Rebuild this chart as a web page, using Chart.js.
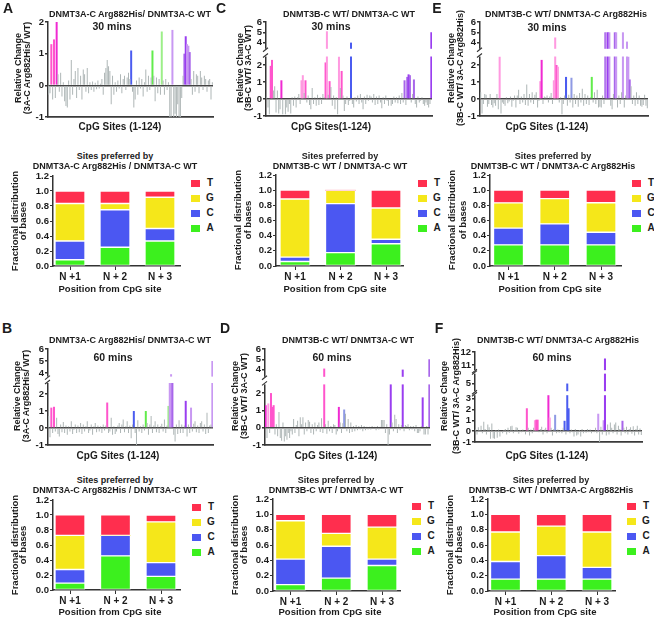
<!DOCTYPE html>
<html>
<head>
<meta charset="utf-8">
<script src="https://cdn.jsdelivr.net/npm/chart.js@4.4.1/dist/chart.umd.min.js"></script>
<style>
body { margin: 0; background: #fff; }
#fig { position: relative; width: 654px; height: 618px; overflow: hidden; background: #fff;
       font-family: "Liberation Sans", Arial, sans-serif; font-weight: bold; color: #1c1c1c; }
#fig canvas { position: absolute; }
.t { position: absolute; white-space: nowrap; line-height: 1; transform: translate(-50%, -50%); }
.r { transform: translate(-50%, -50%) rotate(-90deg); }
.sw { position: absolute; width: 9px; height: 7px; }
</style>
</head>
<body>
<div id="fig"></div>
<script>
// ---- data ----
const sites = Array.from({ length: 124 }, (_, i) => String(i + 1));

// relative change per CpG site, 30 min
const changeA30 = [
  -0.3, -0.25, 1.3, -0.45, 1.45, -0.4, 2.0, 0.35, -0.2, 0.4,
  -0.35, 0.1, -0.5, -0.65, -0.7, 0.15, -0.45, 0.8, -0.3, 0.2,
  0.45, -0.4, 0.55, -0.15, 0.3, -0.45, 0.5, 0.35, -0.2, 0.55,
  -0.25, 0.1, -0.15, 0.12, -0.2, 0.08, -0.12, 0.15, -0.1, 0.05,
  0.2, -0.3, 0.4, 0.55, 0.8, 0.6, 0.45, -0.6, 0.3, -0.3,
  0.1, -0.2, 0.15, -0.1, 0.35, -0.25, 0.2, 0.3, -0.15, 0.25,
  0.4, 0.2, 1.1, -0.2, -0.7, -0.45, 0.15, -0.3, 0.25, -0.1,
  0.2, -0.35, 0.1, 0.5, -0.2, 0.3, -0.15, 0.25, 1.1, 0.3,
  -0.5, 0.25, -0.25, 0.2, -0.3, 1.7, 0.15, -0.3, 0.2, -0.15,
  0.1, -1.05, -1.05, 1.75, -1.05, -0.9, -1.05, -0.6, -1.05, -1.05,
  -0.4, 0.3, 1.0, 1.55, 1.3, 1.25, 1.05, 0.2, -0.3, 0.45,
  -0.2, 0.35, 0.3, -0.25, 0.45, 0.25, -0.15, 0.3, 0.2, -0.2,
  0.15, 0.2, -0.45, 0.1
];
const changeC30 = [
  0.1, -0.5, -0.9, 1.95, 2.3, 0.5, 0.75, -0.8, 0.5, -0.85,
  -0.6, 1.1, -0.9, 0.05, -0.9, -0.5, -0.75, -0.3, -0.85, 0.1,
  -0.4, 0.15, -0.5, 0.1, 0.3, -0.3, 1.1, 1.4, 0.35, 1.1,
  -0.2, 0.2, -0.35, -0.6, 0.65, -0.3, 0.1, -0.4, 0.25, -0.35,
  0.1, -0.3, 0.3, 0.1, 2.15, 5.1, 0.25, 1.05, 0.7, -0.4,
  0.2, -0.6, 0.1, -0.9, 2.5, 0.65, 1.65, 0.2, -0.7, -0.3,
  0.15, -0.35, -0.1, 4.0, -0.3, -0.5, 0.1, -0.15, 0.2, -0.3,
  0.3, -0.2, -0.6, 0.15, -0.3, 0.25, -0.1, 0.2, 0.15, -0.2,
  0.3, -0.35, 0.15, -0.3, 0.2, -0.2, -0.55, 0.1, -0.3, 0.2,
  -0.1, -0.4, 0.05, -0.4, -0.3, 0.15, -0.2, 0.1, -0.25, 0.2,
  -0.3, 0.35, -0.2, 1.1, -0.35, 1.3, 1.45, 1.4, -0.2, 0.3,
  1.15, -0.3, -0.5, 0.15, -0.2, -0.1, 0.1, -0.3, -0.4, -0.2,
  -0.35, -0.5, -0.3, 5.0
];
const changeE30 = [
  0.4, -0.85, -0.3, 0.3, 0.25, -0.45, -0.3, 0.3, -0.35, -0.5,
  -0.25, -0.4, 0.3, -0.6, 2.5, -0.85, -0.2, -0.3, -0.4, 0.1,
  -0.25, -0.15, 0.15, -0.45, -0.1, 0.2, -0.5, 0.2, 0.55, -0.3,
  0.15, -0.2, 0.3, -0.35, 0.85, -0.4, 0.3, -0.2, 0.4, -0.3,
  0.25, 0.4, -0.5, -0.1, 1.05, 2.3, -0.3, 0.15, 0.1, 0.2,
  -0.2, 0.15, 0.35, -0.3, 1.1, 4.5, 2.0, 1.9, -0.2, 0.1,
  -0.9, -0.3, 0.2, 1.3, -0.4, 0.25, -0.2, 1.25, -0.5, 0.3,
  -0.3, 0.2, -0.45, 0.35, -0.2, 0.6, -0.4, 0.3, -0.3, 0.2,
  -0.35, 0.1, 1.3, -0.2, 0.4, -0.3, 0.55, -0.5, -0.45, -0.5,
  0.2, -0.3, 5.0, 5.0, 5.0, 5.0, -0.4, -0.6, 0.3, 5.0,
  5.0, -0.5, 0.2, -0.3, 0.4, 5.0, -0.5, 0.2, 4.1, 2.5,
  1.15, 0.75, -0.3, 0.2, -0.4, 0.4, -0.3, 0.2, -0.4, -0.45,
  -0.35, 0.25, -0.4, -0.55
];
// relative change per CpG site, 60 min
const changeB60 = [
  0.7, -0.55, 1.2, -0.3, 1.25, -0.2, 0.6, -0.35, -0.5, 0.2,
  -0.25, 0.35, -0.3, 0.15, -0.4, 0.1, -0.2, 0.4, -0.35, -0.1,
  0.2, -0.3, 0.15, -0.25, 0.3, -0.35, 0.2, -0.2, 0.1, 0.4,
  -0.3, -0.15, 0.2, -0.4, 0.1, 0.3, -0.25, 0.15, -0.2, 0.1,
  -0.3, 0.2, -0.15, 0.15, 1.5, -0.3, -0.2, 0.6, -0.4, 0.1,
  -0.35, -0.2, 0.15, 0.3, -0.3, 0.2, 0.5, -0.25, 0.1, 0.4,
  -0.3, 0.15, -0.6, 0.2, 1.0, -0.3, -1.0, 0.45, -0.2, 0.1,
  -0.3, 0.2, -0.15, 1.0, 0.3, -0.4, 0.2, 0.7, -0.3, 0.15,
  0.4, -0.25, 0.2, -0.3, 0.1, 0.25, -0.2, 0.5, -0.3, 0.15,
  1.3, 3.0, 3.9, 3.0, -0.4, -0.8, 0.2, -0.35, 0.45, -0.3,
  0.2, -0.3, 0.15, 1.6, -0.5, 0.2, -0.3, 1.2, -0.2, 0.25,
  0.4, -0.25, 0.15, -0.3, 0.3, 0.4, -0.2, 0.2, -0.35, 0.9,
  -0.3, 0.15, 0.2, 5.0
];
const changeD60 = [
  1.3, -0.6, 1.4, -0.3, 2.0, 1.2, 1.3, -0.4, 0.2, -0.5,
  0.9, -0.6, -0.75, 0.3, -0.8, -0.5, -0.7, -0.3, -0.6, -0.2,
  -0.4, 0.5, -0.3, 0.15, 0.4, -0.5, 0.6, 0.2, 0.6, -0.4,
  0.3, -0.2, 0.45, 0.35, -0.3, 0.2, -0.4, 0.3, -0.2, 0.15,
  0.3, -0.25, 0.55, -0.3, 4.1, 0.2, -0.35, 0.4, -0.2, 0.1,
  -0.3, 0.2, 0.15, -0.4, -0.2, 1.2, 0.3, -0.3, 0.25, 1.05,
  0.8, -0.2, 0.5, -0.3, 0.3, -0.25, 0.1, -0.2, 0.15, -0.15,
  0.1, -0.1, 0.15, -0.2, 0.1, -0.15, 0.05, -0.1, 0.05, -0.1,
  0.1, -0.05, 0.05, -0.15, 0.1, -0.1, 0.05, 0.45, 0.45, 0.45,
  -0.3, 0.2, -1.05, -0.4, 3.0, 0.3, -0.2, 0.75, 0.5, -0.3,
  0.2, -0.15, 0.15, 4.0, -0.2, 0.15, 0.1, 0.2, -0.15, 0.1,
  -0.1, 0.1, -0.2, 0.15, -0.3, -0.3, -0.2, 0.1, 1.75, -0.4,
  -0.4, 0.1, -0.4, 5.0
];
const changeF60 = [
  0.2, -0.3, 0.35, 0.1, 0.5, -0.2, 0.85, 0.2, -0.3, 0.6,
  0.35, -0.7, 0.7, -0.65, -0.7, 0.1, -0.6, 0.15, -0.5, 0.05,
  -0.2, 0.1, 0.2, -0.3, 0.3, -0.15, 0.45, 0.5, -0.2, 0.1,
  0.35, 0.3, -0.25, 0.1, -0.1, 0.15, 0.05, -0.3, 2.1, 0.3,
  -0.4, 0.15, -0.2, 0.3, 1.0, 1.05, 1.05, -0.1, 0.2, 0.4,
  -0.3, 0.15, 0.3, -0.2, 3.4, 1.25, 0.3, -0.4, 0.2, 1.5,
  -0.2, 0.15, -0.15, 0.1, -0.2, 0.3, 0.95, -0.3, 5.0, 2.1,
  -0.2, 0.15, -0.1, -0.5, 0.2, -0.4, -0.3, 0.1, -0.5, 0.2,
  -0.2, 0.1, -0.15, 0.2, -0.1, 0.15, -0.2, 0.05, -0.1, 0.3,
  -0.2, 1.6, -1.05, 0.4, -0.3, 1.0, 11.5, -0.4, 0.6, -0.3,
  0.8, 0.3, -0.2, 0.6, 0.8, -0.3, 0.5, 0.2, -0.4, 0.95,
  0.3, -0.2, 0.4, -0.3, 0.2, 0.35, -0.25, 0.45, -0.4, 0.2,
  0.5, -0.3, 0.25, -0.35
];

// y tick labels of the site charts
const ticksPlain = [-1, 0, 1, 2];
const ticksBroken = [-1, 0, 1, 2, 4, 5, 6];
const ticksBrokenF = [-1, 0, 1, 2, 3, 5, 11, 12];

// base composition at N+1..N+3 (rows: A, C, G, T)
const positions = ['N +1', 'N + 2', 'N + 3'];
const bases = ['A', 'C', 'G', 'T'];
const fracTicks = [0, 0.2, 0.4, 0.6, 0.8, 1.0, 1.2];
const fracA = [[0.083, 0.25, 0.333], [0.25, 0.5, 0.167], [0.5, 0.083, 0.417], [0.167, 0.167, 0.083]];
const fracC = [[0.059, 0.176, 0.294], [0.059, 0.647, 0.059], [0.765, 0.176, 0.412], [0.118, 0, 0.235]];
const fracE = [[0.278, 0.278, 0.278], [0.222, 0.278, 0.167], [0.333, 0.333, 0.389], [0.167, 0.111, 0.167]];
const fracB = [[0.091, 0.455, 0.182], [0.182, 0.273, 0.182], [0.455, 0, 0.545], [0.273, 0.273, 0.091]];
const fracD = [[0.083, 0.167, 0.333], [0.333, 0.417, 0.083], [0.5, 0.167, 0.417], [0.083, 0.25, 0.167]];
const fracF = [[0.154, 0.154, 0.154], [0.231, 0.308, 0.154], [0.385, 0.385, 0.462], [0.231, 0.154, 0.231]];

// ---- styles ----
const GRAY = '#aeb6b6';
const PINK = '#ff55cc', LPINK = '#ff9ae0', MAG = '#f02ad2', BLUE = '#4b5cf0', LBLUE = '#8f9ae4',
      GREEN = '#62ec4c', LGREEN = '#9cef88', PURP = '#9a3ef0', MPURP = '#a866ea', LPURP = '#c898f2';
const baseColors = ['#3cf01e', '#4b57f2', '#f5e71a', '#ff2e4e'];

const hlA = { 2: PINK, 4: PINK, 6: MAG, 62: BLUE, 78: GREEN, 85: LGREEN, 93: LPURP,
              102: MPURP, 103: PURP, 104: LPURP, 105: LPURP, 106: MPURP };
const hlC = { 3: PINK, 4: PINK, 11: MAG, 26: LPINK, 27: LPINK, 29: PINK, 44: PINK, 45: LPINK, 47: PINK,
              54: LPINK, 56: PINK, 63: BLUE, 103: MPURP, 105: MPURP, 106: PURP, 107: MPURP, 110: MPURP, 123: PURP };
const hlE = { 14: LPINK, 44: LPINK, 45: MAG, 54: LPINK, 55: LPINK, 56: PINK, 57: LPINK, 63: BLUE, 67: LBLUE,
              82: GREEN, 92: MPURP, 93: LPURP, 94: PURP, 95: LPURP, 99: MPURP, 100: LPURP, 105: LPURP,
              108: LPURP, 109: LPURP, 110: MPURP };
const hlB = { 2: PINK, 4: PINK, 44: PINK, 64: BLUE, 73: GREEN, 90: LGREEN, 91: LPURP, 92: LPURP, 93: MPURP,
              103: PURP, 107: LPURP, 123: LPURP };
const hlD = { 0: MAG, 2: LPINK, 4: PINK, 5: PINK, 6: PINK, 44: PINK, 55: MAG, 59: LBLUE, 94: PURP,
              103: PURP, 118: PURP, 123: MPURP };
const hlF = { 38: PINK, 44: LPINK, 45: PINK, 46: PINK, 54: MAG, 55: LPINK, 59: LBLUE, 66: BLUE, 68: BLUE,
              69: BLUE, 91: LPURP, 95: LPURP, 96: PURP, 109: MPURP };

Chart.defaults.font.family = '"Liberation Sans", Arial, sans-serif';
Chart.defaults.font.weight = 'bold';
Chart.defaults.font.size = 10;
Chart.defaults.color = '#1c1c1c';

// linear axis split into segments, with gaps between them
class BrokenScale extends Chart.LinearScale {
  static id = 'broken';
  static defaults = Chart.LinearScale.defaults;
  buildTicks() {
    this.start = this.min;
    this.end = this.max;
    return this.chart.canvas.brk.ticks.map(v => ({ value: v }));
  }
  getPixelForValue(value) {
    if (value === null || value === undefined || isNaN(value)) return NaN;
    const { segments, gaps } = this.chart.canvas.brk;
    const total = segments.reduce((s, g) => s + g[2], 0) + gaps.reduce((s, g) => s + g, 0);
    let pos = 0;
    for (let i = 0; i < segments.length; i++) {
      const [a, b, size] = segments[i];
      if (value <= b || i === segments.length - 1) {
        if (value < a && i > 0) {
          const pb = segments[i - 1][1], g = gaps[i - 1];
          pos = pos - g + (value - pb) / (a - pb) * g;
        } else {
          pos += (value - a) / (b - a) * size;
        }
        return this.getPixelForDecimal(pos / total);
      }
      pos += size + gaps[i];
    }
  }
  getValueForPixel(pixel) {
    return this.min + (1 - (pixel - this.top) / this.height) * (this.max - this.min);
  }
}
Chart.register(BrokenScale);

const breakPlugin = {
  id: 'axisBreaks',
  afterDatasetsDraw(chart) {
    const brk = chart.canvas.brk;
    const y = chart.scales.y, area = chart.chartArea, ctx = chart.ctx;
    ctx.save();
    for (let i = 1; i < brk.segments.length; i++) {
      const yLo = y.getPixelForValue(brk.segments[i - 1][1]);
      const yHi = y.getPixelForValue(brk.segments[i][0]);
      ctx.fillStyle = '#fff';
      ctx.fillRect(area.left - 3, yHi, area.right - area.left + 3, yLo - yHi);
      ctx.strokeStyle = '#333';
      ctx.lineWidth = 1.1;
      ctx.beginPath();
      ctx.moveTo(area.left - 3, yLo + 1); ctx.lineTo(area.left + 2, yLo - 3);
      ctx.moveTo(area.left - 3, yHi + 3); ctx.lineTo(area.left + 2, yHi - 1);
      ctx.stroke();
    }
    ctx.restore();
  }
};

const fig = document.getElementById('fig');

function text(str, x, y, size, rot) {
  const d = document.createElement('div');
  d.className = rot ? 't r' : 't';
  d.textContent = str;
  d.style.left = x + 'px';
  d.style.top = y + 'px';
  d.style.fontSize = size + 'px';
  fig.appendChild(d);
}

function makeCanvas(box) {
  const c = document.createElement('canvas');
  c.width = box[2];
  c.height = box[3];
  c.style.left = box[0] + 'px';
  c.style.top = box[1] + 'px';
  fig.appendChild(c);
  return c;
}

function siteChart(p) {
  const canvas = makeCanvas(p.box);
  canvas.brk = { segments: p.segments, gaps: p.gaps, ticks: p.ticks };
  const [l, t, w, h] = p.box;
  const [al, at, ar, ab] = p.area;
  const grayVals = p.values.map((v, i) => (p.hl[i] ? null : v));
  const hlVals = p.values.map((v, i) => (p.hl[i] ? v : null));
  const hlColors = p.values.map((v, i) => p.hl[i] || GRAY);
  new Chart(canvas, {
    type: 'bar',
    data: {
      labels: sites,
      datasets: [
        { data: grayVals, backgroundColor: GRAY, barPercentage: 0.75, categoryPercentage: 1, grouped: false },
        { data: hlVals, backgroundColor: hlColors, barPercentage: 1.5, categoryPercentage: 1, grouped: false }
      ]
    },
    options: {
      responsive: false,
      animation: false,
      devicePixelRatio: 1,
      layout: { padding: { left: 0, top: at - t, right: l + w - ar, bottom: 0 } },
      plugins: { legend: { display: false }, tooltip: { enabled: false } },
      scales: {
        x: {
          offset: true,
          ticks: { display: false },
          grid: { display: false },
          border: { color: '#3a3a3a', width: 1.8 },
          afterFit: s => { s.height = t + h - ab; }
        },
        y: {
          type: 'broken',
          min: p.segments[0][0],
          max: p.segments[p.segments.length - 1][1],
          ticks: { font: { size: 9.5 }, padding: 1, autoSkip: false, callback: v => String(v) },
          grid: {
            color: c => (c.tick && c.tick.value === 0 ? '#444' : 'rgba(0,0,0,0)'),
            lineWidth: 1.4,
            tickColor: '#333',
            tickLength: 3
          },
          border: { color: '#333', width: 1.5 },
          afterFit: s => { s.width = al - l; }
        }
      }
    },
    plugins: [breakPlugin]
  });
}

function baseChart(p) {
  const canvas = makeCanvas(p.box);
  const [l, t, w, h] = p.box;
  const [al, at, ar, ab] = p.area;
  const c = p.centers;
  const unit = (c[2] - c[0]) / 2;
  new Chart(canvas, {
    type: 'bar',
    data: {
      datasets: bases.map((b, k) => ({
        label: b,
        data: p.frac[k].map((v, i) => ({ x: i + 1, y: v })),
        backgroundColor: baseColors[k],
        borderColor: 'rgba(255,255,255,0.65)',
        borderWidth: ctx => (ctx.raw && ctx.raw.y > 0 ? 1 : 0),
        borderSkipped: false,
        barThickness: 30
      }))
    },
    options: {
      responsive: false,
      animation: false,
      devicePixelRatio: 1,
      layout: { padding: { left: 0, top: at - t, right: l + w - ar, bottom: 0 } },
      plugins: { legend: { display: false }, tooltip: { enabled: false } },
      scales: {
        x: {
          type: 'linear',
          offset: false,
          stacked: true,
          min: 1 - (c[0] - al) / unit,
          max: 3 + (ar - c[2]) / unit,
          afterBuildTicks: s => { s.ticks = positions.map((_, i) => ({ value: i + 1 })); },
          ticks: { font: { size: 10 }, padding: 1, autoSkip: false, callback: v => positions[v - 1] },
          grid: { offset: false, drawOnChartArea: false, tickLength: 4, tickColor: '#333' },
          border: { color: '#333', width: 1.5 },
          afterFit: s => { s.height = t + h - ab; }
        },
        y: {
          stacked: true,
          min: 0,
          max: 1.2,
          afterBuildTicks: s => { s.ticks = fracTicks.map(v => ({ value: v })); },
          ticks: { font: { size: 9.5 }, padding: 1, autoSkip: false, callback: v => v.toFixed(1) },
          grid: { drawOnChartArea: false, tickLength: 3, tickColor: '#333' },
          border: { color: '#333', width: 1.5 },
          afterFit: s => { s.width = al - l; }
        }
      }
    }
  });
  // legend (T, G, C, A from top)
  bases.slice().reverse().forEach((b, j) => {
    const k = bases.indexOf(b);
    const y = p.legend[1] + j * 15;
    const sw = document.createElement('div');
    sw.className = 'sw';
    sw.style.left = p.legend[0] + 'px';
    sw.style.top = (y - 3.5) + 'px';
    sw.style.background = baseColors[k];
    fig.appendChild(sw);
    text(b, p.legend[0] + 19, y, 10);
  });
}

// ---- site charts ----
const segPlain = [[-1, 2, 95]];
siteChart({ box: [0, 8, 216, 122], area: [48, 22, 213, 117], values: changeA30, hl: hlA,
            segments: segPlain, gaps: [], ticks: ticksPlain });
siteChart({ box: [215, 8, 220, 122], area: [266, 22, 432, 116], values: changeC30, hl: hlC,
            segments: [[-1, 2.5, 59.5], [3.4, 6, 26.8]], gaps: [7.7], ticks: ticksBroken });
siteChart({ box: [430, 8, 224, 122], area: [480, 22, 648, 116], values: changeE30, hl: hlE,
            segments: [[-1, 2.5, 59.5], [3.4, 6, 26.8]], gaps: [7.7], ticks: ticksBroken });
siteChart({ box: [0, 336, 216, 122], area: [48, 349, 213, 445], values: changeB60, hl: hlB,
            segments: [[-1, 2.65, 62], [3.7, 6, 27.6]], gaps: [6.4], ticks: ticksBroken });
siteChart({ box: [215, 336, 220, 122], area: [265, 349, 430, 445], values: changeD60, hl: hlD,
            segments: [[-1, 2.5, 60.6], [3.3, 6, 27.8]], gaps: [7.6], ticks: ticksBroken });
siteChart({ box: [430, 336, 224, 122], area: [475, 352, 642, 442], values: changeF60, hl: hlF,
            segments: [[-1, 3.3, 46.9], [4.3, 5.9, 17.6], [10.6, 12, 18.2]], gaps: [4, 3.5], ticks: ticksBrokenF });

// ---- base composition charts ----
baseChart({ box: [0, 166, 186, 120], area: [53, 176, 180, 266], centers: [70, 115, 160], frac: fracA, legend: [191, 183] });
baseChart({ box: [215, 166, 195, 120], area: [276, 175, 403, 266], centers: [295, 340, 386], frac: fracC, legend: [418, 183] });
baseChart({ box: [430, 166, 196, 120], area: [490, 175, 621, 266], centers: [508.5, 555, 601], frac: fracE, legend: [632, 183] });
baseChart({ box: [0, 490, 186, 120], area: [53, 500, 180, 590], centers: [70, 115, 161], frac: fracB, legend: [192, 507] });
baseChart({ box: [215, 490, 195, 120], area: [273, 499, 400, 591], centers: [290.5, 336, 382], frac: fracD, legend: [412, 506] });
baseChart({ box: [430, 490, 196, 120], area: [488, 499, 615, 591], centers: [505.5, 551, 597], frac: fracF, legend: [627, 506] });

// ---- text ----
[['A', 8, 8], ['C', 221, 8], ['E', 437, 8], ['B', 7, 328], ['D', 225, 328], ['F', 439, 328]]
  .forEach(([s, x, y]) => text(s, x, y, 14));

const ratioA = 'DNMT3A-C Arg882His/ DNMT3A-C WT';
const ratioC = 'DNMT3B-C WT/ DNMT3A-C WT';
const ratioE = 'DNMT3B-C WT/ DNMT3A-C Arg882His';
text(ratioA, 130, 14, 9); text(ratioC, 349, 14, 9); text(ratioE, 566, 14, 9);
text(ratioA, 130, 340, 9); text(ratioC, 348, 340, 9); text(ratioE, 558, 340, 9);
text('30 mins', 112, 26, 10.5); text('30 mins', 331, 26, 10.5); text('30 mins', 547, 27, 10.5);
text('60 mins', 113, 357, 10.5); text('60 mins', 332, 357, 10.5); text('60 mins', 552, 357, 10.5);
text('CpG Sites (1-124)', 120, 127, 10); text('CpG Sites(1-124)', 331, 127, 10); text('CpG Sites (1-124)', 547, 127, 10);
text('CpG Sites (1-124)', 118, 456, 10); text('CpG Sites (1-124)', 336, 456, 10); text('CpG Sites (1-124)', 547, 456, 10);

const ytA = '(3A-C Arg882His/ WT)', ytC = '(3B-C WT/ 3A-C WT)', ytE = '(3B-C WT/ 3A-C Arg882His)';
[[18, 27, 68, ytA], [240, 248, 68, ytC], [451, 460, 68, ytE],
 [17, 26, 396, ytA], [235, 244, 396, ytC], [444, 456, 396, ytE]].forEach(([x1, x2, y, s]) => {
  text('Relative Change', x1, y, 9, true);
  text(s, x2, y, 9, true);
});

[[115, 156, 'DNMT3A-C Arg882His / DNMT3A-C WT'], [340, 156, 'DNMT3B-C WT / DNMT3A-C WT'],
 [553, 156, 'DNMT3B-C WT / DNMT3A-C Arg882His'], [115, 480, 'DNMT3A-C Arg882His / DNMT3A-C WT'],
 [336, 480, 'DNMT3B-C WT / DNMT3A-C WT'], [551, 480, 'DNMT3B-C WT / DNMT3A-C Arg882His']].forEach(([x, y, s]) => {
  text('Sites preferred by', x, y, 9);
  text(s, x, y + 9.5, 9);
});

[[110, 289], [335, 289], [550, 289], [110, 612], [330, 612], [545, 612]]
  .forEach(([x, y]) => text('Position from CpG site', x, y, 9.5));

[[15, 23, 221], [238, 248, 220], [452, 463, 220], [15, 23, 545], [235, 244, 545], [450, 459, 545]]
  .forEach(([x1, x2, y]) => {
    text('Fractional distribution', x1, y, 9.5, true);
    text('of bases', x2, y, 9.5, true);
  });
</script>
</body>
</html>
